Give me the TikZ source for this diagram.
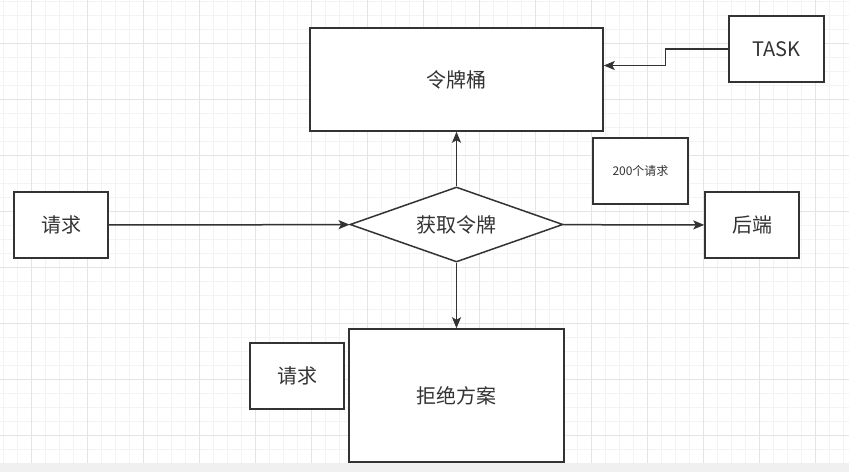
\documentclass[tikz,border=0pt]{standalone}
\usepackage{fontspec}
\setmainfont{Noto Sans CJK SC}
\usepackage{xcolor}
\usepackage{tikz}
\usetikzlibrary{shapes.geometric,arrows.meta}

\definecolor{inkgrey}{HTML}{333333}
\definecolor{gridminor}{HTML}{F3F3F3}
\definecolor{gridmajor}{HTML}{E4E4E4}
\definecolor{bandgrey}{HTML}{F0F0F0}

\begin{document}
\begin{tikzpicture}[
    x=1pt, y=-1pt,
    box/.style={rectangle, draw=inkgrey, fill=white, line width=1.5pt, text=inkgrey, align=center, inner sep=0pt, font=\fontsize{20}{24}\selectfont},
    smallbox/.style={box, minimum width=94pt, minimum height=66pt},
    decision/.style={diamond, draw=inkgrey, fill=white, line width=1.5pt, text=inkgrey, inner sep=0pt, aspect=2.84, minimum width=213pt, minimum height=75pt, font=\fontsize{20}{24}\selectfont},
    arrow/.style={-{Stealth[length=11pt, width=9pt, inset=2.5pt]}, draw=inkgrey, line width=1.5pt}
]

% Canvas and grid
\useasboundingbox (0,0) rectangle (849,472);
\fill[white] (0,0) rectangle (849,472);
\foreach \x in {3.3,17.3,...,849} \draw[gridminor, line width=1pt] (\x,0) -- (\x,472);
\foreach \y in {1.3,15.3,...,472} \draw[gridminor, line width=1pt] (0,\y) -- (849,\y);
\foreach \x in {31.3,87.3,...,849} \draw[gridmajor, line width=1pt] (\x,0) -- (\x,472);
\foreach \y in {43.3,99.3,...,472} \draw[gridmajor, line width=1pt] (0,\y) -- (849,\y);
\fill[bandgrey] (0,462.5) rectangle (849,472);

% Bucket and task
\node[box, minimum width=293pt, minimum height=103pt] (bucket) at (456.5,79.5) {令牌桶};
\node[smallbox, minimum width=95pt] (task) at (776.5,49) {TASK};
\node[smallbox, minimum width=95pt, font=\fontsize{12}{14}\selectfont] (limit) at (640.5,171) {200个请求};

% Middle row
\node[smallbox] (request) at (61,225) {请求};
\node[decision] (gettoken) at (456.5,224.5) {获取令牌};
\node[smallbox] (backend) at (752,225) {后端};

% Bottom row
\node[box, minimum width=215pt, minimum height=133pt] (reject) at (456.5,395.5) {拒绝方案};
\node[smallbox] (request2) at (297,376) {请求};

% Connections
\draw[arrow] (task.west) -- ++(-63,0) |- ([yshift=14pt]bucket.east);
\draw[arrow] (request) -- (gettoken);
\draw[arrow] (gettoken) -- (bucket);
\draw[arrow] (gettoken) -- (backend);
\draw[arrow] (gettoken) -- (reject);

\end{tikzpicture}
\end{document}
